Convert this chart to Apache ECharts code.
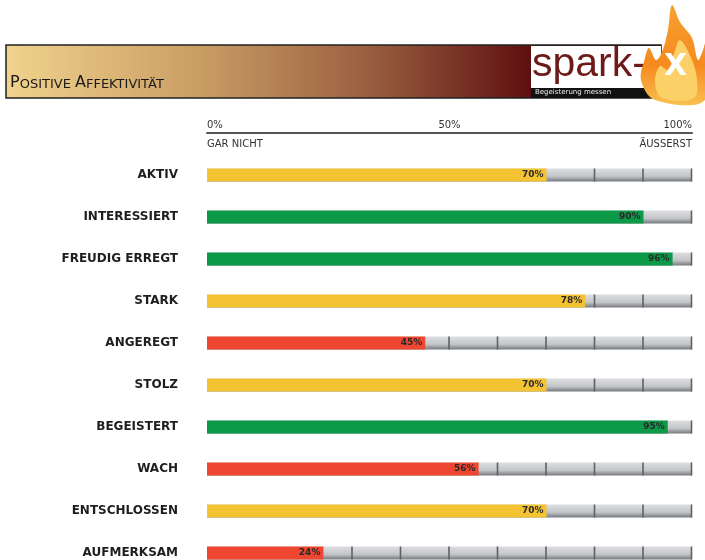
<!DOCTYPE html>
<html>
<head>
<meta charset="utf-8">
<script src="https://cdn.jsdelivr.net/npm/echarts@6/dist/echarts.min.js"></script>
<style>
  html, body { margin: 0; padding: 0; background: #fff; }
  #main { width: 705px; height: 560px; }
</style>
</head>
<body>
<div id="main"></div>
<script>
var categories = ['AKTIV', 'INTERESSIERT', 'FREUDIG ERREGT', 'STARK', 'ANGEREGT',
  'STOLZ', 'BEGEISTERT', 'WACH', 'ENTSCHLOSSEN', 'AUFMERKSAM'];
var values = [70, 90, 96, 78, 45, 70, 95, 56, 70, 24];
var scaleLabels = ['0%', '50%', '100%'];
var endLabels = ['GAR NICHT', 'ÄUSSERST'];

function barColor(v) {
  if (v >= 85) return '#0d9a48';
  if (v >= 60) return '#f3c332';
  return '#ee4631';
}

var chart = echarts.init(document.getElementById('main'), null, { renderer: 'canvas' });

var option = {
  backgroundColor: '#fff',
  animation: false,
  grid: { left: 207, right: 13, top: 154, height: 420, outerBoundsMode: 'none' },
  xAxis: [
    {
      type: 'value', position: 'top', min: 0, max: 100, interval: 50, offset: 21,
      axisLine: { show: true, lineStyle: { color: '#555', width: 2 } },
      axisTick: { show: false },
      splitLine: { show: false },
      axisLabel: {
        margin: 3, color: '#333', fontFamily: 'DejaVu Sans', fontSize: 10,
        alignMinLabel: 'left', alignMaxLabel: 'right',
        formatter: function (v) { return scaleLabels[v / 50]; }
      }
    },
    {
      type: 'value', position: 'top', min: 0, max: 100, interval: 100, offset: 2,
      axisLine: { show: false }, axisTick: { show: false }, splitLine: { show: false },
      axisLabel: {
        margin: 3, color: '#333', fontFamily: 'DejaVu Sans', fontSize: 10,
        alignMinLabel: 'left', alignMaxLabel: 'right',
        formatter: function (v) { return v === 0 ? endLabels[0] : endLabels[1]; }
      }
    }
  ],
  yAxis: {
    type: 'category', inverse: true, data: categories,
    axisLine: { show: false }, axisTick: { show: false },
    axisLabel: { margin: 29, color: '#1e1e1e', fontFamily: 'DejaVu Sans', fontWeight: 'bold', fontSize: 12 }
  },
  series: [
    {
      type: 'custom', xAxisIndex: 0, z: 1,
      data: categories.map(function (c, i) { return [100, i, values[i]]; }),
      encode: { x: 0, y: 1 },
      renderItem: function (params, api) {
        var yi = api.value(1);
        var filled = api.value(2);
        var p0 = api.coord([0, yi]);
        var p1 = api.coord([api.value(0), yi]);
        var h = 13;
        var children = [{
          type: 'rect',
          shape: { x: p0[0], y: p0[1] - h / 2, width: p1[0] - p0[0], height: h },
          style: {
            fill: new echarts.graphic.LinearGradient(0, 0, 0, 1, [
              { offset: 0, color: '#dcdee0' },
              { offset: 0.6, color: '#c3c5c8' },
              { offset: 1, color: '#76797c' }
            ])
          }
        }];
        // segment dividers every 10% on the unfilled part
        for (var t = 10; t <= 100; t += 10) {
          if (t <= filled) continue;
          var px = api.coord([t, yi])[0];
          children.push({
            type: 'line',
            shape: { x1: px - 0.5, y1: p0[1] - h / 2, x2: px - 0.5, y2: p0[1] + h / 2 },
            style: { stroke: '#5e6164', lineWidth: 1.6 }
          });
        }
        return { type: 'group', children: children };
      }
    },
    {
      type: 'bar', z: 3, barWidth: 13,
      data: values.map(function (v) { return { value: v, itemStyle: { color: barColor(v) } }; }),
      label: {
        show: true, position: 'insideRight', distance: 3,
        formatter: '{c}%', color: '#2a2a2a', fontFamily: 'DejaVu Sans',
        fontWeight: 'bold', fontSize: 9
      }
    }
  ],
  graphic: [
    {
      type: 'rect', z: 10,
      shape: { x: 6, y: 45, width: 655, height: 53 },
      style: {
        fill: new echarts.graphic.LinearGradient(0, 0, 1, 0, [
          { offset: 0, color: '#f0d38c' },
          { offset: 0.3, color: '#c99c64' },
          { offset: 0.55, color: '#9a6040' },
          { offset: 0.8, color: '#5e1010' },
          { offset: 1, color: '#4a0808' }
        ]),
        stroke: '#222', lineWidth: 1.5
      }
    },
    {
      type: 'text', z: 11, x: 10, y: 75,
      style: {
        text: '{b|P}{s|OSITIVE }{b|A}{s|FFEKTIVITÄT}',
        rich: {
          b: { fontFamily: 'DejaVu Sans', fontSize: 16, fill: '#1a1a1a' },
          s: { fontFamily: 'DejaVu Sans', fontSize: 13, fill: '#1a1a1a', verticalAlign: 'bottom' }
        }
      }
    },
    {
      type: 'rect', z: 11,
      shape: { x: 531, y: 46, width: 130, height: 42 },
      style: { fill: '#fff' }
    },
    {
      type: 'rect', z: 11,
      shape: { x: 531, y: 88, width: 130, height: 10 },
      style: { fill: '#111' }
    },
    {
      type: 'text', z: 12, x: 532, y: 44,
      style: { text: 'spark-', fontFamily: 'Liberation Sans', fontSize: 41, fill: '#6e1a1a' }
    },
    {
      type: 'text', z: 12, x: 535, y: 89,
      style: { text: 'Begeisterung messen', fontFamily: 'DejaVu Sans', fontSize: 7, fill: '#eee' }
    },
    {
      type: 'polygon', z: 13,
      shape: {
        smooth: 0.35,
        points: [[655, 100], [641, 80], [645, 58], [649, 48], [656, 60], [662, 52], [668, 30], [672, 5],
          [680, 22], [692, 38], [698, 60], [703, 50], [705, 44], [705, 100]]
      },
      style: {
        fill: new echarts.graphic.LinearGradient(0, 0, 0, 1, [
          { offset: 0, color: '#f7a030' },
          { offset: 0.6, color: '#f58a20' },
          { offset: 1, color: '#f9c050' }
        ])
      }
    },
    {
      type: 'polygon', z: 13,
      shape: {
        smooth: 0.35,
        points: [[662, 98], [655, 82], [660, 66], [668, 70], [674, 54], [680, 40], [692, 60], [697, 80], [694, 98]]
      },
      style: { fill: '#fbd067' }
    },
    {
      type: 'text', z: 14, x: 664, y: 52,
      style: { text: 'X', fontFamily: 'DejaVu Sans', fontWeight: 'bold', fontSize: 30, fill: '#fff' }
    }
  ]
};

chart.setOption(option);
window.addEventListener('resize', chart.resize);
</script>
</body>
</html>
